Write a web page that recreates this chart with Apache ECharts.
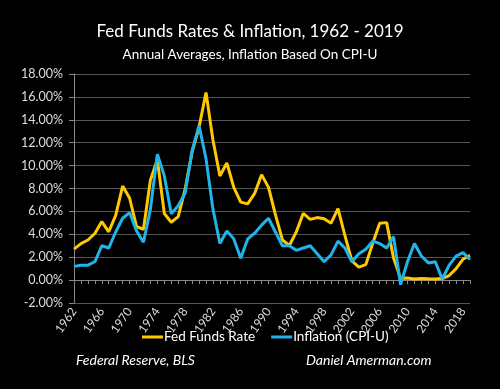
<!DOCTYPE html>
<html><head><meta charset="utf-8">
<script src="https://cdn.jsdelivr.net/npm/echarts@6/dist/echarts.min.js"></script>
<style>html,body{margin:0;padding:0;background:#000;}#c{width:500px;height:389px;}</style>
</head><body><div id="c"></div>
<script>
const years = [];
for (let y = 1962; y <= 2019; y++) years.push(String(y));
const fedFunds = [2.71,3.18,3.50,4.07,5.11,4.22,5.66,8.21,7.17,4.67,4.44,8.74,10.51,5.82,5.05,5.54,7.94,11.20,13.35,16.39,12.24,9.09,10.23,8.10,6.81,6.66,7.57,9.21,8.10,5.69,3.52,3.02,4.21,5.83,5.30,5.46,5.35,4.97,6.24,3.88,1.67,1.13,1.35,3.22,4.97,5.02,1.92,0.16,0.18,0.10,0.14,0.11,0.09,0.13,0.40,1.00,1.83,2.16];
const inflation = [1.2,1.3,1.3,1.6,3.0,2.8,4.2,5.4,5.9,4.3,3.3,6.2,11.0,9.1,5.8,6.5,7.6,11.3,13.5,10.6,6.2,3.2,4.3,3.6,1.9,3.6,4.1,4.8,5.4,4.2,3.0,3.0,2.6,2.8,3.0,2.3,1.6,2.2,3.4,2.8,1.6,2.3,2.7,3.4,3.2,2.8,3.8,-0.4,1.6,3.2,2.1,1.5,1.6,0.1,1.3,2.1,2.4,1.8];
const seriesNames = ['Fed Funds Rate', 'Inflation (CPI-U)'];
const titleText = 'Fed Funds Rates & Inflation, 1962 - 2019';
const subtitleText = 'Annual Averages, Inflation Based On CPI-U';
const footLeft = 'Federal Reserve, BLS';
const footRight = 'Daniel Amerman.com';

const FONT = 'Lato, "Open Sans", sans-serif';
const chart = echarts.init(document.getElementById('c'));
chart.setOption({
  backgroundColor: '#000',
  animation: false,
  title: [
    {text: titleText, left: 'center', top: 18, textStyle: {color: '#fff', fontSize: 17, fontWeight: 'normal', fontFamily: FONT}},
    {text: subtitleText, left: 'center', top: 43, textStyle: {color: '#fff', fontSize: 13.5, fontWeight: 'normal', fontFamily: FONT}}
  ],
  legend: {
    data: seriesNames, top: 325, left: 137, itemWidth: 21, itemHeight: 3, itemGap: 16,
    icon: 'rect',
    textStyle: {color: '#fff', fontSize: 13.5, fontFamily: FONT, padding: [0,0,0,-4]}
  },
  graphic: [
    {type: 'text', left: 76, top: 353, style: {text: footLeft, fill: '#fff', font: 'italic 14px ' + FONT}},
    {type: 'text', left: 306, top: 353, style: {text: footRight, fill: '#fff', font: 'italic 14px ' + FONT}}
  ],
  grid: {left: 74, right: 30, top: 74, bottom: 86, containLabel: false},
  xAxis: {
    type: 'category', data: years, boundaryGap: false,
    axisLine: {onZero: true, lineStyle: {color: '#888', width: 1}},
    axisTick: {show: true, interval: 0, length: 4, lineStyle: {color: '#888'}},
    axisLabel: {interval: 3, rotate: 55, color: '#ddd', fontSize: 12, fontFamily: FONT, margin: 6},
    splitLine: {show: false}
  },
  yAxis: {
    type: 'value', min: -2, max: 18, interval: 2,
    axisLine: {show: true, lineStyle: {color: '#888'}},
    axisTick: {show: true, length: 5, lineStyle: {color: '#888'}},
    axisLabel: {color: '#ddd', fontSize: 12.5, fontFamily: FONT, margin: 11, formatter: v => v.toFixed(2) + '%'},
    splitLine: {lineStyle: {color: '#555', width: 1}}
  },
  series: [
    {name: seriesNames[0], type: 'line', data: fedFunds, showSymbol: false, symbol: 'none', lineStyle: {color: '#FFC800', width: 3}, itemStyle: {color: '#FFC800'}},
    {name: seriesNames[1], type: 'line', data: inflation, showSymbol: false, symbol: 'none', lineStyle: {color: '#1FB4EA', width: 3}, itemStyle: {color: '#1FB4EA'}}
  ]
});
</script></body></html>
